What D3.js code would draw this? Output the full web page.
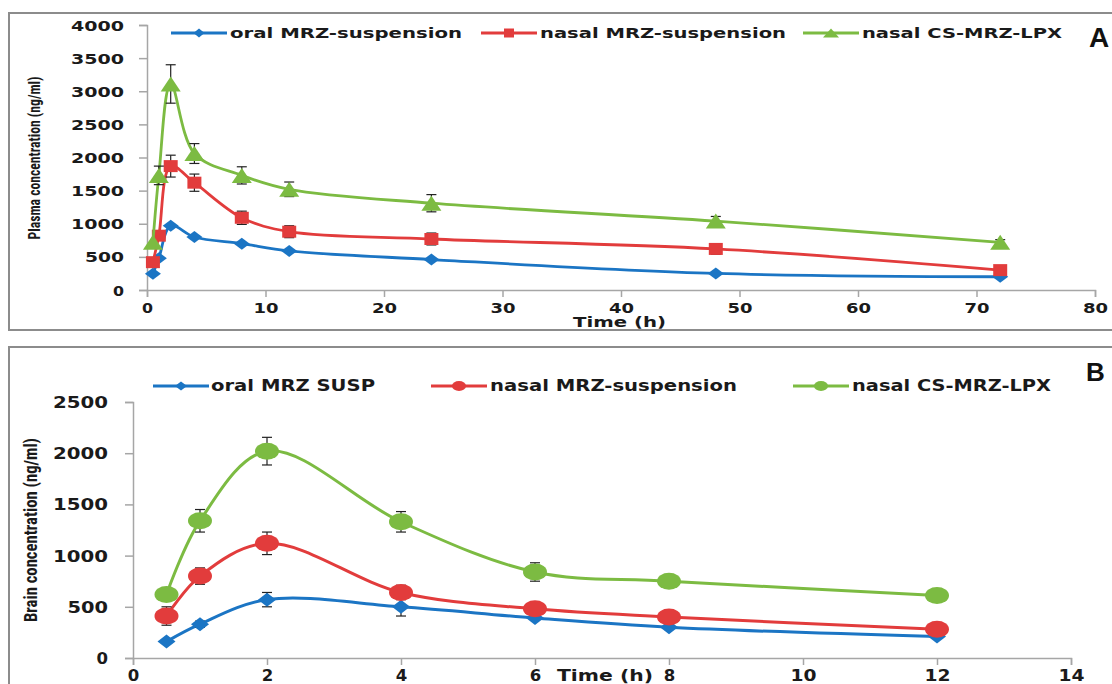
<!DOCTYPE html>
<html>
<head>
<meta charset="utf-8">
<script src="https://cdn.jsdelivr.net/npm/d3@7"></script>
<style>
  body { margin: 0; background: #fff; }
  svg { display: block; }
  .wide { font-family: "DejaVu Sans", Verdana, sans-serif; font-weight: bold; fill: #1a1a1a; }
  .narrow { font-family: "Liberation Sans Narrow", "Roboto Condensed", "Liberation Sans", sans-serif; font-weight: bold; fill: #1a1a1a; }
</style>
</head>
<body>
<div id="chart"></div>
<script>
// panel A - plasma
const timesA = [0.5, 1, 2, 4, 8, 12, 24, 48, 72]
const oralA = [245, 480, 970, 800, 700, 590, 460, 250, 200]
const nasalA = [420, 820, 1870, 1620, 1090, 880, 770, 620, 300]
const lpxA = [720, 1730, 3110, 2060, 1730, 1520, 1310, 1040, 720]
const oralErrA = [0, 0, 0, 0, 0, 0, 0, 0, 0]
const nasalErrA = [0, 0, 165, 130, 100, 90, 90, 80, 0]
const lpxErrA = [0, 140, 290, 150, 130, 110, 130, 70, 40]
const xTicksA = [0, 10, 20, 30, 40, 50, 60, 70, 80]
const yTicksA = [0, 500, 1000, 1500, 2000, 2500, 3000, 3500, 4000]
const namesA = ['oral MRZ-suspension', 'nasal MRZ-suspension', 'nasal CS-MRZ-LPX']

// panel B - brain
const timesB = [0.5, 1, 2, 4, 6, 8, 12]
const oralB = [160, 330, 570, 500, 390, 300, 210]
const nasalB = [410, 800, 1120, 640, 480, 400, 280]
const lpxB = [620, 1340, 2020, 1330, 840, 750, 610]
const oralErrB = [0, 30, 70, 90, 0, 0, 0]
const nasalErrB = [90, 80, 110, 70, 0, 0, 0]
const lpxErrB = [0, 110, 135, 100, 90, 40, 0]
const xTicksB = [0, 2, 4, 6, 8, 10, 12, 14]
const yTicksB = [0, 500, 1000, 1500, 2000, 2500]
const namesB = ['oral MRZ SUSP', 'nasal MRZ-suspension', 'nasal CS-MRZ-LPX']

const colors = ['#1b75c4', '#e23c3c', '#7cbb42']

const W = 1112, H = 684
const svg = d3.select('#chart').append('svg').attr('width', W).attr('height', H)

// marker shapes, w/h are full width and height
function markerPath(kind, w, h) {
    const a = w / 2, b = h / 2
    if (kind === 'diamond') return `M0,${-b}L${a},0L0,${b}L${-a},0Z`
    if (kind === 'square') return `M${-a},${-b}H${a}V${b}H${-a}Z`
    if (kind === 'triangle') return `M0,${-b}L${a},${b}L${-a},${b}Z`
    // ellipse
    return `M${-a},0A${a},${b} 0 1,0 ${a},0A${a},${b} 0 1,0 ${-a},0Z`
}

function stretch(sel, charW) {
    sel.attr('textLength', function () { return this.textContent.length * charW - 3 })
        .attr('lengthAdjust', 'spacingAndGlyphs')
}

function drawPanel(p) {
    const g = svg.append('g')

    g.append('rect')
        .attr('x', 9).attr('y', p.boxTop)
        .attr('width', W + 20).attr('height', p.boxH)
        .attr('fill', 'none').attr('stroke', '#8c8c8c').attr('stroke-width', 2)

    const x = d3.scaleLinear().domain(p.xDomain).range(p.xRange)
    const y = d3.scaleLinear().domain(p.yDomain).range(p.yRange)

    const yAxis = g.append('g')
        .attr('transform', `translate(${p.xRange[0]},0)`)
        .call(d3.axisLeft(y).tickValues(p.yTicks).tickFormat(d3.format('d'))
            .tickSize(8).tickPadding(p.yPad))
    const xAxis = g.append('g')
        .attr('transform', `translate(0,${p.yRange[0]})`)
        .call(d3.axisBottom(x).tickValues(p.xTicks).tickFormat(d3.format('d'))
            .tickSize(7).tickPadding(p.xPad))
    for (const ax of [xAxis, yAxis]) {
        ax.select('.domain').attr('stroke', '#a6a6a6').attr('stroke-width', 1.5)
        ax.selectAll('.tick line').attr('stroke', '#a6a6a6').attr('stroke-width', 1.5)
        ax.selectAll('.tick text').attr('class', 'wide').attr('font-size', p.tickFont)
            .attr('fill', '#1a1a1a').call(stretch, p.charW)
    }
    yAxis.selectAll('.tick text').attr('dy', '0.36em')

    const line = d3.line()
        .x(d => x(d.t)).y(d => y(d.v))
        .curve(d3.curveCatmullRom.alpha(0.5))

    p.series.forEach((s, i) => {
        const pts = p.times.map((t, k) => ({ t: t, v: s.values[k], e: s.errs[k] }))
        const sg = g.append('g')
        sg.append('path').datum(pts)
            .attr('d', line)
            .attr('fill', 'none').attr('stroke', colors[i]).attr('stroke-width', p.lineW)

        const eb = sg.selectAll('.err').data(pts.filter(d => d.e > 0)).join('g')
            .attr('stroke', '#222').attr('stroke-width', 1.2)
        eb.append('line')
            .attr('x1', d => x(d.t)).attr('x2', d => x(d.t))
            .attr('y1', d => y(d.v - d.e)).attr('y2', d => y(d.v + d.e))
        eb.append('line')
            .attr('x1', d => x(d.t) - 5).attr('x2', d => x(d.t) + 5)
            .attr('y1', d => y(d.v + d.e)).attr('y2', d => y(d.v + d.e))
        eb.append('line')
            .attr('x1', d => x(d.t) - 5).attr('x2', d => x(d.t) + 5)
            .attr('y1', d => y(d.v - d.e)).attr('y2', d => y(d.v - d.e))

        sg.selectAll('.mk').data(pts).join('path')
            .attr('transform', d => `translate(${x(d.t)},${y(d.v)})`)
            .attr('d', markerPath(s.marker, s.mw, s.mh))
            .attr('fill', colors[i])

        // legend entry
        const lg = p.legend[i]
        g.append('line')
            .attr('x1', lg.x1).attr('x2', lg.x1 + 56)
            .attr('y1', p.legendY).attr('y2', p.legendY)
            .attr('stroke', colors[i]).attr('stroke-width', 3)
        g.append('path')
            .attr('transform', `translate(${lg.x1 + 28},${p.legendY})`)
            .attr('d', markerPath(s.marker, s.lw, s.lh))
            .attr('fill', colors[i])
        g.append('text').attr('class', 'wide')
            .attr('x', lg.tx).attr('y', p.legendY + 5)
            .attr('font-size', p.legendFont)
            .attr('textLength', lg.tw).attr('lengthAdjust', 'spacingAndGlyphs')
            .text(p.names[i])
    })

    g.append('text').attr('class', 'narrow')
        .attr('transform', `translate(${p.yTitle.x},${p.yTitle.y}) rotate(-90)`)
        .attr('text-anchor', 'middle')
        .attr('font-size', p.yTitle.size)
        .attr('textLength', p.yTitle.len).attr('lengthAdjust', 'spacingAndGlyphs')
        .text(p.yTitle.text)

    g.append('text').attr('class', 'wide')
        .attr('x', p.xTitle.x).attr('y', p.xTitle.y)
        .attr('font-size', p.xTitle.size)
        .attr('textLength', p.xTitle.len).attr('lengthAdjust', 'spacingAndGlyphs')
        .text('Time (h)')

    g.append('text')
        .attr('x', p.tag.x).attr('y', p.tag.y)
        .attr('font-family', '"Liberation Sans", Arial, sans-serif')
        .attr('font-weight', 'bold').attr('font-size', p.tag.size)
        .attr('fill', '#111')
        .text(p.tag.text)
}

drawPanel({
    boxTop: 13, boxH: 317,
    xDomain: [0, 80], xRange: [147, 1095],
    yDomain: [0, 4000], yRange: [290, 25],
    xTicks: xTicksA, yTicks: yTicksA,
    yPad: 15, xPad: 6, tickFont: 14, charW: 14,
    lineW: 2.8,
    times: timesA,
    series: [
        { values: oralA, errs: oralErrA, marker: 'diamond', mw: 16, mh: 12, lw: 11, lh: 9 },
        { values: nasalA, errs: nasalErrA, marker: 'square', mw: 14, mh: 12, lw: 10, lh: 9 },
        { values: lpxA, errs: lpxErrA, marker: 'triangle', mw: 20, mh: 15, lw: 16, lh: 9 }
    ],
    names: namesA,
    legendY: 33,
    legend: [
        { x1: 171, tx: 230, tw: 232 },
        { x1: 481, tx: 540, tw: 246 },
        { x1: 803, tx: 862, tw: 200 }
    ],
    legendFont: 14,
    yTitle: { x: 40, y: 158, size: 17, len: 163, text: 'Plasma concentration (ng/ml)' },
    xTitle: { x: 573, y: 327, size: 14, len: 93 },
    tag: { x: 1089, y: 47, size: 28, text: 'A' }
})

drawPanel({
    boxTop: 347, boxH: 360,
    xDomain: [0, 14], xRange: [133, 1071],
    yDomain: [0, 2500], yRange: [658, 402],
    xTicks: xTicksB, yTicks: yTicksB,
    yPad: 17, xPad: 5, tickFont: 15, charW: 14.5,
    lineW: 3,
    times: timesB,
    series: [
        { values: oralB, errs: oralErrB, marker: 'diamond', mw: 18, mh: 14, lw: 12, lh: 9 },
        { values: nasalB, errs: nasalErrB, marker: 'ellipse', mw: 24, mh: 17, lw: 14, lh: 10 },
        { values: lpxB, errs: lpxErrB, marker: 'ellipse', mw: 24, mh: 17, lw: 14, lh: 10 }
    ],
    names: namesB,
    legendY: 386,
    legend: [
        { x1: 153, tx: 211, tw: 164 },
        { x1: 431, tx: 490, tw: 247 },
        { x1: 793, tx: 852, tw: 199 }
    ],
    legendFont: 15,
    yTitle: { x: 37, y: 530, size: 19, len: 184, text: 'Brain concentration (ng/ml)' },
    xTitle: { x: 557, y: 681, size: 15, len: 96 },
    tag: { x: 1086, y: 381, size: 26, text: 'B' }
})
</script>
</body>
</html>
